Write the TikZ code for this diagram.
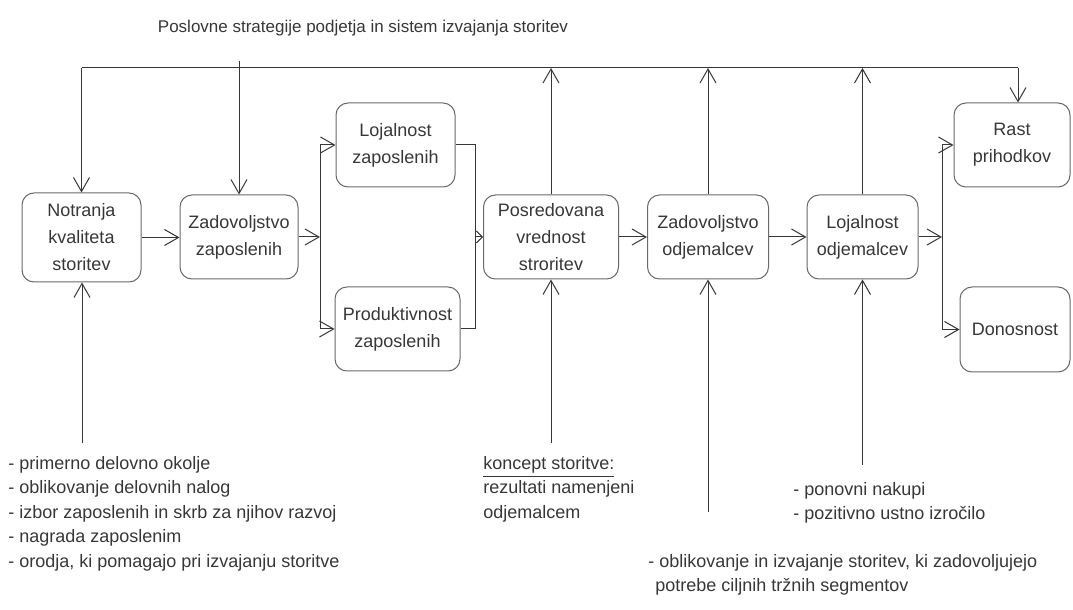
\documentclass[tikz,border=0pt]{standalone}
\usepackage{fontspec}
\setmainfont{Liberation Sans}
\usetikzlibrary{arrows.meta}
\definecolor{inkgray}{RGB}{55, 55, 55}
\definecolor{framegray}{RGB}{105, 105, 105}

\begin{document}
\begin{tikzpicture}[x=0.5pt, y=-0.5pt,
    box/.style={draw=framegray, line width=0.5pt, rounded corners=6pt, minimum height=42pt, align=center, text=inkgray, font=\fontsize{9}{13.5}\selectfont, inner sep=2pt},
    link/.style={draw=inkgray, line width=0.5pt},
    flow/.style={link, -{Straight Barb[length=7pt, width=8pt]}},
    list/.style={anchor=north west, align=left, inner sep=0pt, text=inkgray, font=\fontsize{9}{12.25}\selectfont}]

\useasboundingbox (0,0) rectangle (1073,610);

% title
\node[text=inkgray, font=\fontsize{8.5}{11}\selectfont] (naslov) at (363,28) {Poslovne strategije podjetja in sistem izvajanja storitev};

% boxes
\node[box, minimum width=59.5pt, minimum height=44.5pt] (kakovost) at (81.5,237.5) {Notranja\\kvaliteta\\storitev};
\node[box, minimum width=59pt] (zadzap) at (239,237) {Zadovoljstvo\\zaposlenih};
\node[box, minimum width=59.5pt] (lojzap) at (395.5,145) {Lojalnost\\zaposlenih};
\node[box, minimum width=62.5pt] (prodzap) at (397.5,329) {Produktivnost\\zaposlenih};
\node[box, minimum width=67.5pt] (posred) at (551,237) {Posredovana\\vrednost\\stroritev};
\node[box, minimum width=60.5pt] (zadodj) at (708,237) {Zadovoljstvo\\odjemalcev};
\node[box, minimum width=55.5pt] (lojodj) at (862.5,237) {Lojalnost\\odjemalcev};
\node[box, minimum width=58pt] (rast) at (1012,145) {Rast\\prihodkov};
\node[box, minimum width=55pt, minimum height=42.5pt] (donos) at (1015,329.5) {Donosnost};

% junctions
\coordinate (bus) at (0,68);
\coordinate (busR) at (1018,68);
\coordinate (zadtop) at (239,61);
\coordinate (s1) at (320,237);
\coordinate (m1) at (475,237);
\coordinate (s2) at (942,237);
\coordinate (in1) at (82,443);
\coordinate (in2) at (551,443);
\coordinate (in3) at (708,512);
\coordinate (in4) at (862.5,465);

% main chain
\draw[flow] (kakovost.east) -- (kakovost.east -| zadzap.west);
\draw[flow] (zadzap.east) -- (s1);
\draw[link] (s1 |- lojzap.west) -- (s1 |- prodzap.west);
\draw[flow] (s1 |- lojzap.west) -- (lojzap.west);
\draw[flow] (s1 |- prodzap.west) -- (prodzap.west);
\draw[link] (lojzap.east) -- (m1 |- lojzap.east) -- (m1 |- prodzap.east) -- (prodzap.east);
\draw[link, -{Straight Barb[length=3pt, width=6pt]}] (m1) -- (posred.west);
\draw[flow] (posred.east) -- (zadodj.west);
\draw[flow] (zadodj.east) -- (lojodj.west);
\draw[flow] (lojodj.east) -- (s2);
\draw[link] (s2 |- rast.west) -- (s2 |- donos.west);
\draw[flow] (s2 |- rast.west) -- (rast.west);
\draw[flow] (s2 |- donos.west) -- (donos.west);

% top line
\draw[link] (kakovost.north |- bus) -- (busR);
\draw[flow] (kakovost.north |- bus) -- (kakovost.north);
\draw[flow] (zadtop) -- (zadzap.north);
\draw[flow] (busR) -- (busR |- rast.north);
\draw[flow] (posred.north) -- (posred.north |- bus);
\draw[flow] (zadodj.north) -- (zadodj.north |- bus);
\draw[flow] (lojodj.north) -- (lojodj.north |- bus);

% inputs from below
\draw[flow] (in1) -- (in1 |- kakovost.south);
\draw[flow] (in2) -- (posred.south);
\draw[flow] (in3) -- (zadodj.south);
\draw[flow] (in4) -- (lojodj.south);

% texts
\node[list] (ukrepi) at (8,456) {- primerno delovno okolje\\- oblikovanje delovnih nalog\\- izbor zaposlenih in skrb za njihov razvoj\\- nagrada zaposlenim\\- orodja, ki pomagajo pri izvajanju storitve};
\node[list] (koncept) at (483,456) {\underline{koncept storitve:}\\rezultati namenjeni\\odjemalcem};
\node[list] (nakupi) at (793,482) {- ponovni nakupi\\- pozitivno ustno izročilo};
\node[list] (ponudba) at (648,554) {- oblikovanje in izvajanje storitev, ki zadovoljujejo\\\hspace{3.5pt}potrebe ciljnih tržnih segmentov};

\end{tikzpicture}
\end{document}
